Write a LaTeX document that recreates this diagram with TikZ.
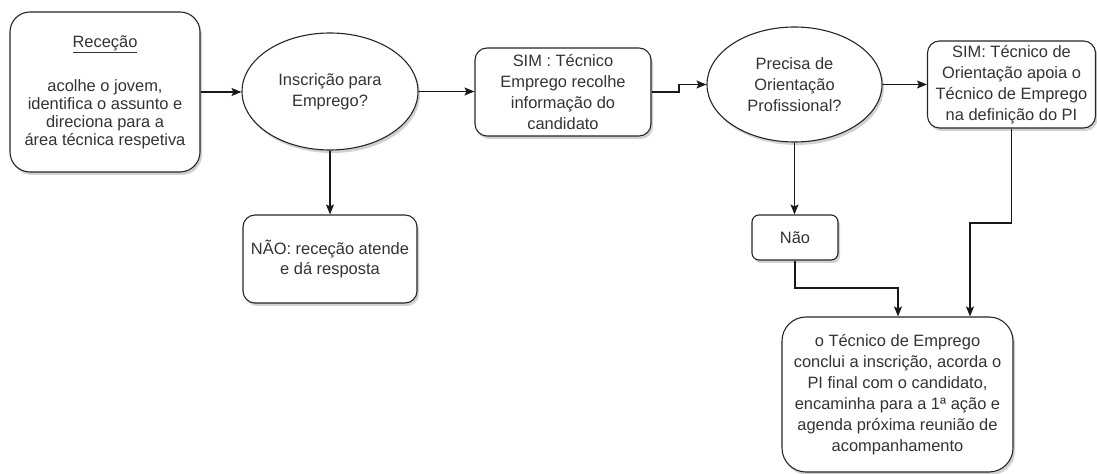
\documentclass[tikz,border=0pt]{standalone}
\usepackage{fontspec}
\setmainfont{Liberation Sans}
\usetikzlibrary{shapes.geometric,shadows,arrows.meta}
\begin{document}
\begin{tikzpicture}[x=1bp,y=-1bp,
  every node/.style={font=\fontsize{16.5}{21}\selectfont, text=black!80, align=center, inner sep=0pt},
  shad/.style={drop shadow={shadow xshift=2bp, shadow yshift=-3bp, opacity=0.18, fill=black}},
  box/.style={draw=black!85, line width=1.1bp, fill=white, shad, rectangle},
  ell/.style={draw=black!85, line width=1.1bp, fill=white, shad, ellipse},
  arr/.style={draw=black!90, line width=1.1bp, -{Stealth[length=10bp,width=8bp,inset=2bp]}}
]
\useasboundingbox (0,0) rectangle (1097,474);

\node[box, rounded corners=20bp, minimum width=190bp, minimum height=160bp,
      font=\fontsize{16.5}{18}\selectfont] (rec) at (105,92)
  {\underline{Receção}\\[26bp]acolhe o jovem,\\identifica o assunto e\\direciona para a\\área técnica respetiva};

\node[ell, minimum width=176bp, minimum height=117bp] (e1) at (330,91.5)
  {Inscrição para\\Emprego?};

\node[box, rounded corners=12bp, minimum width=176bp, minimum height=88bp] (sim1) at (563,92)
  {SIM : Técnico\\Emprego recolhe\\informação do\\candidato};

\node[ell, minimum width=175bp, minimum height=115bp] (e2) at (794.5,84.5)
  {Precisa de\\Orientação\\Profissional?};

\node[box, rounded corners=12bp, minimum width=168bp, minimum height=87bp] (sim2) at (1011.5,84.5)
  {SIM: Técnico de\\Orientação apoia o\\Técnico de Emprego\\na definição do PI};

\node[box, rounded corners=12bp, minimum width=174bp, minimum height=88bp] (nao1) at (330,259)
  {NÃO: receção atende\\e dá resposta};

\node[box, rounded corners=7bp, minimum width=86bp, minimum height=45bp] (nao2) at (795,237.5)
  {Não};

\node[box, rounded corners=24bp, minimum width=231bp, minimum height=155bp] (fin) at (897.5,394.5)
  {o Técnico de Emprego\\conclui a inscrição, acorda o\\PI final com o candidato,\\encaminha para a 1ª ação e\\agenda próxima reunião de\\acompanhamento};

\coordinate (k1) at (679,0);
\coordinate (k2) at (0,288);
\coordinate (k3) at (898,0);
\coordinate (k4) at (0,223);
\coordinate (k5) at (970,0);

\draw[arr] (rec.east) -- (rec.east -| e1.west);
\draw[arr] (e1.east) -- (e1.east -| sim1.west);
\draw[arr] (sim1.east) -- (sim1.east -| k1) |- (e2.west);
\draw[arr] (e2.east) -- (sim2.west);
\draw[arr] (e1.south) -- (nao1.north);
\draw[arr] (e2.south) -- (e2.south |- nao2.north);
\draw[arr] (nao2.south) -- (nao2.south |- k2) -| (k3 |- fin.north);
\draw[arr] (sim2.south) -- (sim2.south |- k4) -| (k5 |- fin.north);
\end{tikzpicture}
\end{document}
